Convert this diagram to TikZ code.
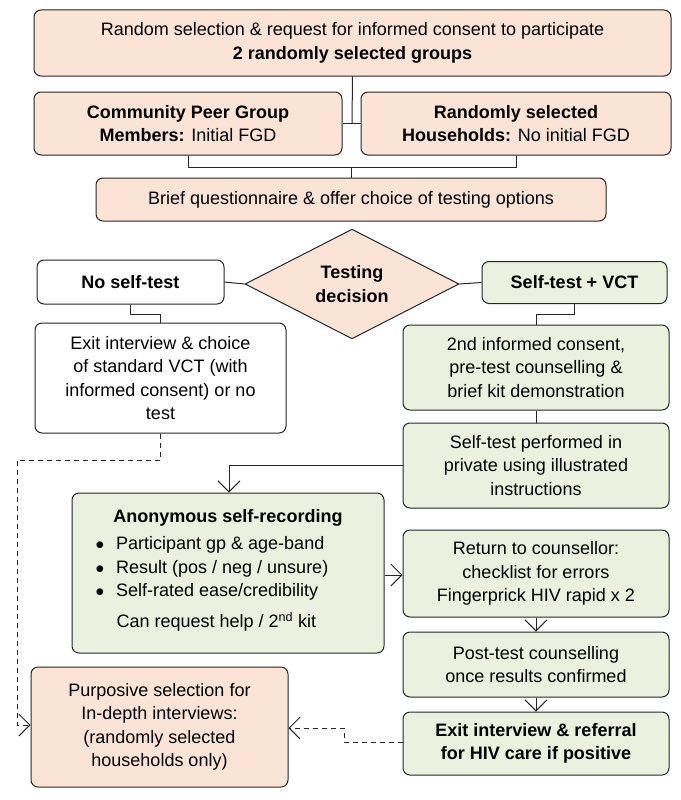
\documentclass[tikz,border=0pt]{standalone}
\usepackage{fontspec}
\setmainfont{Liberation Sans}
\usetikzlibrary{arrows.meta,shapes.geometric}
\definecolor{peach}{HTML}{FBE4D5}
\definecolor{lgreen}{HTML}{EBF1DE}
\tikzset{
 bx/.style={draw=black!85,line width=1pt,rounded corners=7pt,align=center,inner sep=1pt},
 pe/.style={bx,fill=peach},
 gr/.style={bx,fill=lgreen},
 wh/.style={bx,fill=white},
 ln/.style={draw=black!85,line width=1pt},
 dl/.style={ln,dash pattern=on 5pt off 4pt},
 tip/.style={-{Straight Barb[length=11pt,width=22pt,line width=1pt]}}
}
\begin{document}
\begin{tikzpicture}[x=1pt,y=-1pt,font=\fontsize{18}{23.5}\selectfont]
\useasboundingbox (0,0) rectangle (680,800);
\node[pe,minimum width=637,minimum height=66] (top) at (352.5,43) {Random selection \& request for informed consent to participate\\\textbf{2 randomly selected groups}};
\node[pe,minimum width=308,minimum height=63] (cpg) at (188,123.5) {\textbf{Community Peer Group}\\\textbf{Members:} Initial FGD};
\node[pe,minimum width=310,minimum height=63] (rsh) at (516,123.5) {\textbf{Randomly selected}\\\textbf{Households:} No initial FGD};
\node[pe,minimum width=510,minimum height=43] (brief) at (351,199.5) {Brief questionnaire \& offer choice of testing options};
\node[diamond,draw=black!85,line width=1pt,fill=peach,minimum width=214,minimum height=104,inner sep=0pt,align=center,font=\fontsize{18}{23.5}\selectfont\bfseries] (dec) at (352,284) {Testing\\decision};
\node[wh,minimum width=187,minimum height=44] (nst) at (130.5,282) {\textbf{No self-test}};
\node[gr,minimum width=185,minimum height=42] (st) at (574.5,282.5) {\textbf{Self-test + VCT}};
\node[wh,minimum width=251,minimum height=110] (exit1) at (160.5,378) {Exit interview \& choice\\of standard VCT (with\\informed consent) or no\\test};
\node[gr,minimum width=266,minimum height=85] (cons) at (536,367.5) {2nd informed consent,\\pre-test counselling \&\\brief kit demonstration};
\node[gr,minimum width=266,minimum height=85] (self) at (536,465.5) {Self-test performed in\\private using illustrated\\instructions};
\node[gr,minimum width=312,minimum height=160,align=left] (anon) at (228,573) {};
\node[font=\fontsize{18}{23.5}\selectfont\bfseries] (anont) at (228,518) {Anonymous self-recording};
\node[anchor=west] (b1) at (92,545) {$\bullet$\hspace{12pt}Participant gp \& age-band};
\node[anchor=west] (b2) at (92,568.5) {$\bullet$\hspace{12pt}Result (pos / neg / unsure)};
\node[anchor=west] (b3) at (92,592) {$\bullet$\hspace{12pt}Self-rated ease/credibility};
\node[anchor=west] (b4) at (113,622) {Can request help / 2\textsuperscript{nd} kit};
\node[gr,minimum width=266,minimum height=87] (ret) at (536,573.5) {Return to counsellor:\\checklist for errors\\Fingerprick HIV rapid x 2};
\node[gr,minimum width=266,minimum height=65] (post) at (536,664.5) {Post-test counselling\\once results confirmed};
\node[gr,minimum width=266,minimum height=63,font=\fontsize{18}{23.5}\selectfont\bfseries] (exit2) at (536,743.5) {Exit interview \& referral\\for HIV care if positive};
\node[pe,minimum width=257,minimum height=120] (purp) at (159.5,727) {Purposive selection for\\In-depth interviews:\\(randomly selected\\households only)};
% connectors
\coordinate (j) at (352,123.5);
\draw[ln] (top.south) -- (j);
\draw[ln] (cpg.east) -- (rsh.west);
\draw[ln] (cpg.south) -- (188,167) -| (rsh.south);
\draw[ln] (351,167) -- (brief.north);
\draw[ln] (nst.east) -- (dec.west);
\draw[ln] (dec.east) -- (st.east -| st.west);
\draw[ln] (nst.south) -- (130.5,314) -| (exit1.north);
\draw[ln] (st.south) -- (574.5,314) -| (cons.north);
\draw[ln] (cons.south) -- (self.north);
\draw[ln,tip] (self.west) -| (anon.north -| 229,0);
\draw[ln,tip] (anon.east |- 0,575) -- (ret.west |- 0,575);
\draw[ln,tip] (ret.south) -- (post.north);
\draw[ln,tip] (post.south) -- (exit2.north);
\draw[dl,tip] (exit1.south) -- (160.5,460) -- (17,460) |- (purp.west |- 0,725);
\draw[dl,tip] (exit2.west |- 0,742) -- (344,742) |- (purp.east |- 0,728);
\end{tikzpicture}
\end{document}
